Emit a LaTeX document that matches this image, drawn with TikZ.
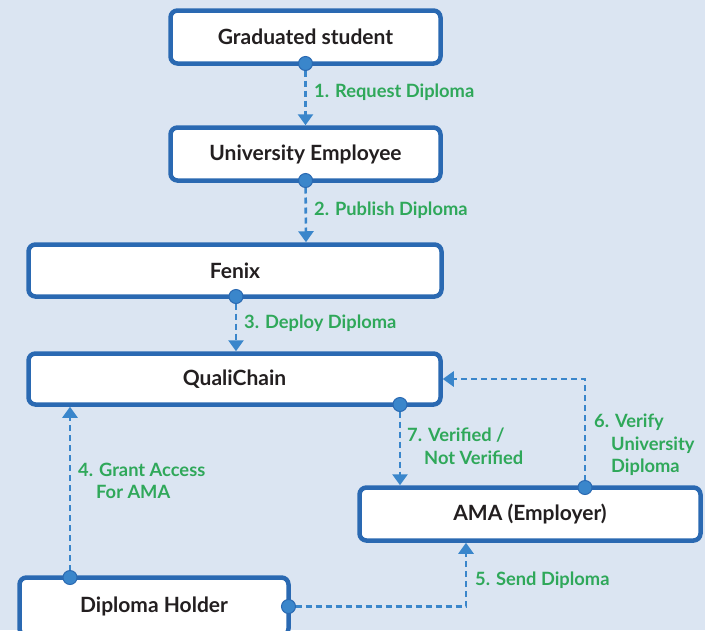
\documentclass[tikz,border=0pt]{standalone}
\usepackage{fontspec}
\setmainfont{Lato}
\usetikzlibrary{arrows.meta}

\definecolor{bgblue}{HTML}{DBE5F2}
\definecolor{boxblue}{HTML}{2A69B2}
\definecolor{flowblue}{HTML}{3A86CB}
\definecolor{stepgreen}{HTML}{2FA85A}
\definecolor{ink}{HTML}{231F20}

\begin{document}
\begin{tikzpicture}[x=1pt,y=-1pt,
  actor/.style={draw=boxblue,fill=white,line width=4.5pt,rounded corners=7pt,
    outer sep=0pt,inner sep=0pt,text=ink,font=\fontsize{21}{25}\selectfont\bfseries},
  flow/.style={draw=flowblue,line width=2.6pt,dash pattern=on 6pt off 4pt,
    arrows={Circle[length=15pt,fill=flowblue,color=boxblue,line width=1pt]-Triangle[width=15pt,length=11pt,fill=flowblue,color=flowblue]}},
  steplabel/.style={anchor=west,text=stepgreen,align=left,inner sep=0pt,
    font=\fontsize{18.3}{22.5}\selectfont\bfseries}]

% Background and page size
\fill[bgblue] (0,0) rectangle (705,630);
\useasboundingbox (0,0) rectangle (705,630);

% Boxes
\node[actor,minimum width=270,minimum height=53] (grad) at (305.5,37) {Graduated student};
\node[actor,minimum width=270,minimum height=53] (emp) at (305.5,154) {University Employee};
\node[actor,minimum width=413,minimum height=52] (fenix) at (235,270.5) {Fenix};
\node[actor,minimum width=412,minimum height=51] (quali) at (234.5,379) {QualiChain};
\node[actor,minimum width=341,minimum height=53] (ama) at (530,514) {AMA (Employer)};
\node[actor,minimum width=269,minimum height=58] (holder) at (154,606.5) {Diploma Holder};

% Dashed connectors
\draw[flow] ([yshift=7.5pt]grad.south) -- ([yshift=2.25pt]emp.north);
\draw[flow] ([yshift=7.5pt]emp.south) -- ([xshift=71pt,yshift=2.25pt]fenix.north);
\draw[flow] ([xshift=1pt,yshift=7.5pt]fenix.south) -- ([xshift=1.5pt,yshift=2.25pt]quali.north);
\draw[flow] ([xshift=-84pt,yshift=-7.5pt]holder.north) -- ([xshift=-164.5pt,yshift=-2.25pt]quali.south);
\draw[flow] ([xshift=-7.5pt]holder.east) -| ([xshift=-64pt,yshift=-2.25pt]ama.south);
\draw[flow] ([xshift=55pt,yshift=-7.5pt]ama.north) |- ([xshift=2.25pt]quali.east);
\draw[flow] ([xshift=165.5pt,yshift=7.5pt]quali.south) -- ([xshift=-130pt,yshift=2.25pt]ama.north);

% Step labels
\node[steplabel] (req) at (314,92) {1. Request Diploma};
\node[steplabel] (pub) at (314,210) {2. Publish Diploma};
\node[steplabel] (dep) at (244,323) {3. Deploy Diploma};
\node[steplabel] (grant) at (78,481) {4. Grant Access\\\hspace*{18pt}For AMA};
\node[steplabel] (send) at (475,580) {5. Send Diploma};
\node[steplabel] (verify) at (594,445) {6. Verify\\\hspace*{17pt}University\\\hspace*{17pt}Diploma};
\node[steplabel] (verified) at (407,446) {7. Verified /\\\hspace*{17pt}Not Verified};
\end{tikzpicture}
\end{document}
